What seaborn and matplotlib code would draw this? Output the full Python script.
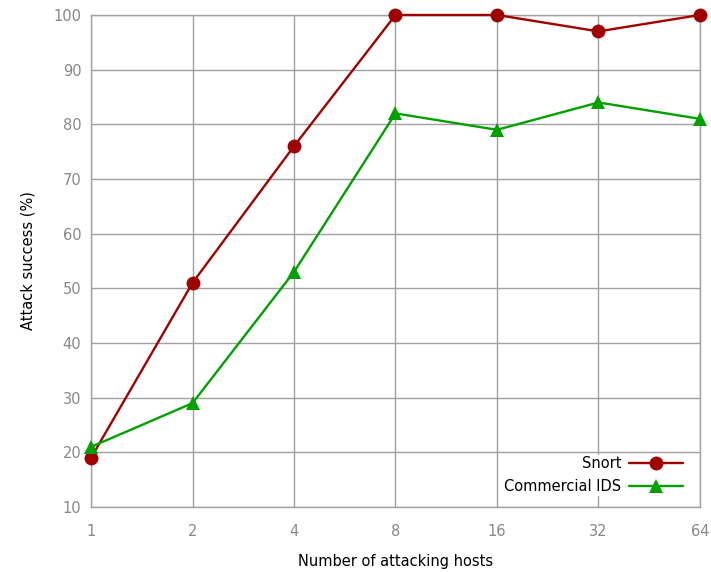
import matplotlib
matplotlib.use("Agg")
import matplotlib.pyplot as plt
import seaborn as sns
import pandas as pd

hosts = [1, 2, 4, 8, 16, 32, 64]
snort = [19, 51, 76, 100, 100, 97, 100]
commercial = [21, 29, 53, 82, 79, 84, 81]
y_ticks = [10, 20, 30, 40, 50, 60, 70, 80, 90, 100]

df = pd.DataFrame({
    "hosts": hosts * 2,
    "success": snort + commercial,
    "ids": ["Snort"] * len(hosts) + ["Commercial IDS"] * len(hosts),
})

sns.set_style("white")
plt.rcParams["font.family"] = ["DejaVu Sans"]
plt.rcParams["text.color"] = "black"
plt.rcParams["axes.labelcolor"] = "black"

fig = plt.figure(figsize=(7.11, 5.72), dpi=100)
ax = fig.add_axes([0.128, 0.1136, 0.8565, 0.8602])

sns.lineplot(data=df, x="hosts", y="success", hue="ids", style="ids",
             palette={"Snort": "#a00000", "Commercial IDS": "#00a000"},
             markers={"Snort": "o", "Commercial IDS": "^"},
             dashes=False, markersize=10, linewidth=1.7,
             markeredgewidth=0, ax=ax, clip_on=False, zorder=3)

ax.set_xscale("log", base=2)
ax.set_xlim(1, 64)
ax.set_xticks(hosts)
ax.set_xticklabels([str(h) for h in hosts])
ax.minorticks_off()
ax.set_ylim(10, 100)
ax.set_yticks(y_ticks)

ax.grid(True, color="#a0a0a0", linewidth=1.0)
for s in ax.spines.values():
    s.set_color("#a0a0a0")
    s.set_linewidth(1.0)
ax.tick_params(axis="both", colors="#888888", labelsize=10.5, length=0)
ax.tick_params(axis="y", pad=7)
ax.tick_params(axis="x", pad=12)

ax.set_xlabel("Number of attacking hosts", fontsize=10.5, labelpad=11)
ax.set_ylabel("Attack success (%)", fontsize=10.5, labelpad=13)

# legend sits in the white gap between the 20 gridline and the x axis
leg = ax.legend(loc="lower right", bbox_to_anchor=(0.975, 0.024),
                borderaxespad=0, markerfirst=False, frameon=True,
                fontsize=10.5, handlelength=3.7, handletextpad=0.55,
                borderpad=0.1, fancybox=False, labelspacing=0.5)
leg.get_frame().set_edgecolor("white")
leg.get_frame().set_alpha(1.0)

fig.savefig("out.png", dpi=100)
